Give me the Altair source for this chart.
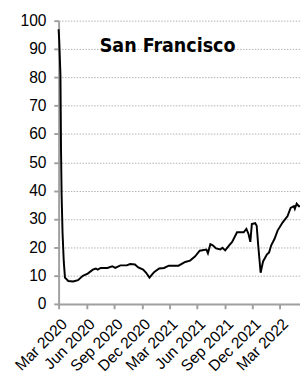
import altair as alt
import pandas as pd

dates = [
    "2020-03-01", "2020-03-03", "2020-03-07", "2020-03-08", "2020-03-09", "2020-03-11",
    "2020-03-14", "2020-03-18", "2020-03-22", "2020-04-02", "2020-04-18", "2020-05-04",
    "2020-05-20", "2020-06-05", "2020-06-22", "2020-07-02", "2020-07-08", "2020-07-18",
    "2020-08-09", "2020-08-25", "2020-09-04", "2020-09-21", "2020-10-12", "2020-10-23",
    "2020-11-08", "2020-11-19", "2020-12-05", "2020-12-15", "2020-12-26", "2021-01-06",
    "2021-01-11", "2021-01-27", "2021-02-12", "2021-02-28", "2021-04-01", "2021-04-23",
    "2021-05-09", "2021-05-25", "2021-06-10", "2021-07-02", "2021-07-07", "2021-07-15",
    "2021-07-23", "2021-08-03", "2021-08-17", "2021-08-24", "2021-09-02", "2021-09-15",
    "2021-09-25", "2021-10-11", "2021-11-02", "2021-11-11", "2021-11-18", "2021-11-24",
    "2021-11-29", "2021-12-10", "2021-12-15", "2021-12-20", "2021-12-28", "2022-01-05",
    "2022-01-18", "2022-01-25", "2022-02-01", "2022-02-12", "2022-02-22", "2022-03-11",
    "2022-03-27", "2022-04-06", "2022-04-17", "2022-04-20", "2022-04-26", "2022-05-03",
    "2022-05-07",
]
values = [
    97, 93, 81, 68, 54, 38,
    25, 15, 9.3, 8.1, 7.9, 8.4,
    9.9, 10.7, 12.1, 12.5, 12.1, 12.7,
    12.7, 13.3, 12.7, 13.6, 13.6, 14.1,
    13.9, 12.9, 12.1, 11.0, 9.3, 10.7,
    11.3, 12.5, 12.7, 13.5, 13.5, 14.8,
    15.3, 16.7, 18.8, 19.2, 17.9, 21.1,
    20.7, 19.6, 19.2, 19.8, 18.9, 20.7,
    21.9, 25.3, 25.3, 26.5, 24.7, 21.9,
    28.2, 28.5, 27.6, 20.7, 11.0, 15.0,
    17.5, 18.2, 20.7, 23.0, 25.9, 28.8,
    31.0, 33.9, 34.5, 33.6, 35.4, 34.5,
    34.5,
]
y_ticks = [0, 10, 20, 30, 40, 50, 60, 70, 80, 90, 100]
x_tick_months = [(2020, 3), (2020, 6), (2020, 9), (2020, 12), (2021, 3),
                 (2021, 6), (2021, 9), (2021, 12), (2022, 3)]
title_text = "San Francisco"

df = pd.DataFrame({"date": [d + "T00:00:00" for d in dates], "value": values})

FONT = "Liberation Sans"

x_enc = alt.X(
    "date:T",
    scale=alt.Scale(domain=[alt.DateTime(year=2020, month=3, date=1),
                            alt.DateTime(year=2022, month=5, date=7)]),
    axis=alt.Axis(
        values=[alt.DateTime(year=y, month=m, date=1) for y, m in x_tick_months],
        format="%b %Y", labelAngle=-45, labelAlign="right", labelBaseline="top",
        labelFont=FONT, labelFontSize=16, labelColor="#000",
        labelPadding=7, tickSize=5, tickColor="#a0a0a0", tickWidth=2,
        domainColor="#a0a0a0", domainWidth=2, grid=False, title=None,
        labelOverlap=False,
    ),
)
y_enc = alt.Y(
    "value:Q",
    scale=alt.Scale(domain=[0, 100], nice=False),
    axis=alt.Axis(
        values=y_ticks, labelFont=FONT, labelFontSize=16, labelColor="#000",
        labelPadding=8, tickSize=5, tickColor="#a0a0a0", tickWidth=2,
        domainColor="#a0a0a0", domainWidth=2, grid=True, gridColor="#b0b0b0",
        gridDash=[1.5, 1.5], gridWidth=1, title=None,
    ),
)

line = alt.Chart(df).mark_line(color="#000", strokeWidth=2).encode(x=x_enc, y=y_enc)

title = alt.Chart(pd.DataFrame({"t": [title_text]})).mark_text(
    font="DejaVu Sans Condensed, Roboto Condensed, Roboto, sans-serif",
    fontWeight="bold", fontSize=20,
    align="center", baseline="alphabetic", color="#000",
).encode(text="t:N", x=alt.value(112), y=alt.value(32))

chart = (line + title).properties(
    width=248, height=291,
    autosize=alt.AutoSizeParams(type="none"),
    padding={"left": 52, "top": 8, "right": 0, "bottom": 68},
).configure_view(stroke=None)

chart.save("out.html", embed_options={"renderer": "svg", "actions": False})
